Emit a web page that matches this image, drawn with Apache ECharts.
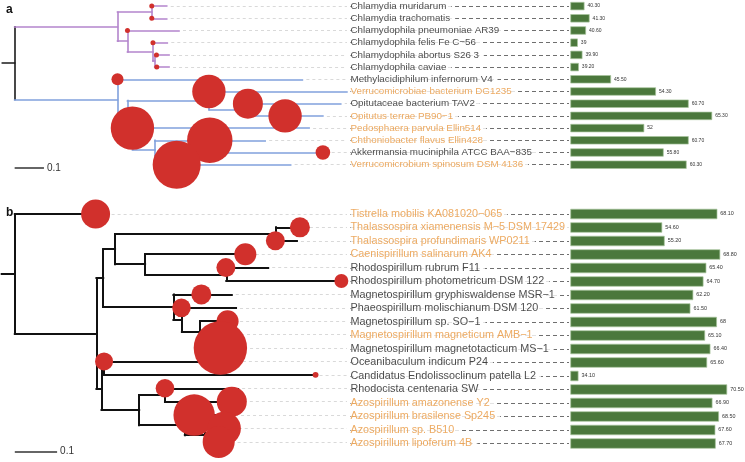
<!DOCTYPE html>
<html>
<head>
<meta charset="utf-8">
<script src="https://cdn.jsdelivr.net/npm/echarts@6/dist/echarts.min.js"></script>
<style>
html,body{margin:0;padding:0;background:#fff;}
#chart{width:745px;height:462px;}
</style>
</head>
<body>
<div id="chart"></div>
<script>
// ---------------- DATA ----------------
// Panel a
const namesA = [
  'Chlamydia muridarum', 'Chlamydia trachomatis', 'Chlamydophila pneumoniae AR39',
  'Chlamydophila felis Fe C\u221256', 'Chlamydophila abortus S26 3', 'Chlamydophila caviae',
  'Methylacidiphilum infernorum V4', 'Verrucomicrobiae bacterium DG1235',
  'Opitutaceae bacterium TAV2', 'Opitutus terrae PB90\u22121', 'Pedosphaera parvula Ellin514',
  'Chthoniobacter flavus Ellin428', 'Akkermansia muciniphila ATCC BAA\u2212835',
  'Verrucomicrobium spinosum DSM 4136'
];
const highlightA = [0,0,0,0,0,0,0,1,0,1,1,1,0,1];
const valuesA = [40.30, 41.30, 40.60, 39, 39.90, 39.20, 45.50, 54.30, 60.70, 65.30, 52, 60.70, 55.80, 60.30];
// tree (leaf numbers index namesA), branch lengths in substitutions/site
const treeA = '(((0:0.051,1:0.051):0.117,(2:0.176,(3:0.049,(4:0.049,5:0.049):0.006):0.087):0.034):0.351,' +
              '(6:0.631,((7:0.47,(8:0.316,9:0.255):0.133):0.279,(10:0.603,(11:0.376,(12:0.495,13:0.389):0.074):0.077):0.017):0.034):0.351):0.042;';
const circleXA = [0.468, 0.468, 0.385, 0.472, 0.484, 0.485, 0.351, 0.663, 0.796, 0.923, 0.402, 0.666, 1.052, 0.553];
const circleValA = [1, 1, 1, 1, 1, 1, 5.8, 44.6, 36, 44.6, 75.3, 82.4, 8.5, 92.2];

// Panel b
const namesB = [
  'Tistrella mobilis KA081020\u2212065', 'Thalassospira xiamenensis M\u22125 DSM 17429',
  'Thalassospira profundimaris WP0211', 'Caenispirillum salinarum AK4',
  'Rhodospirillum rubrum F11', 'Rhodospirillum photometricum DSM 122',
  'Magnetospirillum gryphiswaldense MSR\u22121', 'Phaeospirillum molischianum DSM 120',
  'Magnetospirillum sp. SO\u22121', 'Magnetospirillum magneticum AMB\u22121',
  'Magnetospirillum magnetotacticum MS\u22121', 'Oceanibaculum indicum P24',
  'Candidatus Endolissoclinum patella L2', 'Rhodocista centenaria SW',
  'Azospirillum amazonense Y2', 'Azospirillum brasilense Sp245',
  'Azospirillum sp. B510', 'Azospirillum lipoferum 4B'
];
const highlightB = [1,1,1,1,0,0,0,0,0,1,0,0,0,0,1,1,1,1];
const valuesB = [68.10, 54.60, 55.20, 68.80, 65.40, 64.70, 62.20, 61.50, 68, 65.10, 66.40, 65.60, 34.10, 70.50, 66.90, 68.50, 67.60, 67.70];
const treeB = '(0:0.191,((((1:0.056,2:0.049):0.381,(3:0.238,(4:0.099,5:0.274):0.192):0.071):0.028,' +
              '(6:0.138,(7:0.128,(8:0.071,(9:0.024,10:0.017):0.035):0.043):0.02):0.166):0.016,' +
              '((11:0.262,12:0.5):0.006,((13:0.173,14:0.177):0.061,(15:0.095,(16:0.071,17:0.054):0.047):0.108):0.089):0.012):0.193):0.031;';
const circleXB = [0.191, 0.674, 0.616, 0.545, 0.499, 0.772, 0.441, 0.394, 0.503, null, 0.486, 0.211, 0.711, 0.355, 0.513, 0.424, 0.495, 0.482];
const circleValB = [33.6, 16, 14.4, 19.4, 14.4, 7.8, 16, 13.8, 19.4, null, 114, 13, 1.4, 13.8, 36, 68.6, 44.6, 41];

const scaleBarLength = 0.1;

// ---------------- HELPERS ----------------
function parseNewick(str) {
  const s = str.replace(/\s+/g, '');
  let i = 0;
  function node() {
    const n = { children: [] };
    if (s[i] === '(') {
      i++;
      n.children.push(node());
      while (s[i] === ',') { i++; n.children.push(node()); }
      i++;
    }
    let name = '';
    while (i < s.length && ':,();'.indexOf(s[i]) < 0) name += s[i++];
    if (name.length) n.leaf = parseInt(name, 10);
    n.len = 0;
    if (s[i] === ':') {
      i++;
      let num = '';
      while (i < s.length && ',();'.indexOf(s[i]) < 0) num += s[i++];
      n.len = parseFloat(num);
    }
    return n;
  }
  return node();
}
function layoutTree(n, parentX) {
  n.x = parentX === undefined ? 0 : parentX + n.len;
  if (n.children.length) {
    n.children.forEach(c => layoutTree(c, n.x));
    n.y = (n.children[0].y + n.children[n.children.length - 1].y) / 2;
  } else {
    n.y = n.leaf;
  }
}
function colorTree(n, col) {
  n.color = col;
  n.children.forEach(c => colorTree(c, col));
}
function collect(n, segs, leaves) {
  if (!n.children.length) { leaves.push(n); return; }
  const f = n.children[0], l = n.children[n.children.length - 1];
  segs.push({ coords: [[n.x, f.y], [n.x, l.y]], lineStyle: { color: n.color } });
  n.children.forEach(c => {
    segs.push({ coords: [[n.x, c.y], [c.x, c.y]], lineStyle: { color: c.color } });
    collect(c, segs, leaves);
  });
}
const fmt = v => Number.isInteger(v) ? String(v) : v.toFixed(2);

// ---------------- LAYOUT / STYLE ----------------
const TREE_W = 347, LABEL_L = 350, LABEL_W = 219, BAR_L = 570.7, BAR_W = 174.3;
const BLACK = '#1a1a1a', ORANGE = '#e8963c', RED = '#d1302c', GREEN = '#4b783c';

const grids = [], xAxes = [], yAxes = [], series = [];

function panel(p) {
  const n = p.names.length;
  const root = parseNewick(p.newick);
  layoutTree(root);
  colorTree(root, p.rootColor);
  root.children.forEach((c, k) => colorTree(c, p.cladeColors[k] || p.rootColor));
  const segs = [{ coords: [[-root.len, root.y], [0, root.y]], lineStyle: { color: p.rootColor } }];
  const leaves = [];
  collect(root, segs, leaves);
  const xMin = p.treeMin, xMax = p.treeMin + TREE_W / p.treeScale;
  const yMax = n - 0.5 + p.extraRows;

  // tree grid
  const g0 = grids.length;
  grids.push({ left: 0, top: p.top, width: TREE_W, height: (n + p.extraRows) * p.rowH });
  xAxes.push({ gridIndex: g0, type: 'value', min: xMin, max: xMax, show: false });
  yAxes.push({ gridIndex: g0, type: 'value', min: -0.5, max: yMax, inverse: true, show: false });
  // label grid
  const g1 = grids.length;
  grids.push({ left: LABEL_L, top: p.top, width: LABEL_W, height: n * p.rowH });
  xAxes.push({ gridIndex: g1, type: 'value', min: 0, max: 1, show: false });
  yAxes.push({ gridIndex: g1, type: 'value', min: -0.5, max: n - 0.5, inverse: true, show: false });
  // bar grid
  const g2 = grids.length;
  grids.push({ left: BAR_L, top: p.top, width: BAR_W, height: n * p.rowH });
  xAxes.push({ gridIndex: g2, type: 'value', min: p.barMin, max: p.barMin + BAR_W / p.barScale, show: false });
  yAxes.push({ gridIndex: g2, type: 'category', data: p.names, inverse: true, show: false });

  // light leaders tip -> label
  series.push({
    type: 'lines', coordinateSystem: 'cartesian2d', xAxisIndex: g0, yAxisIndex: g0,
    silent: true, z: 1,
    lineStyle: { color: '#d9d9d9', width: 1, type: [3, 3], opacity: 1 },
    data: leaves.map(l => ({ coords: [[l.x + 4 / p.treeScale, l.y], [xMax, l.y]] }))
  });
  // tree branches
  series.push({
    type: 'lines', coordinateSystem: 'cartesian2d', xAxisIndex: g0, yAxisIndex: g0,
    silent: true, z: 2,
    lineStyle: { width: p.lineW, opacity: 1, cap: 'square' },
    data: segs
  });
  // circles
  const circ = [];
  p.circX.forEach((x, i) => { if (x != null) circ.push([x, i, p.circV[i]]); });
  series.push({
    type: 'scatter', xAxisIndex: g0, yAxisIndex: g0, z: 3, silent: true,
    symbol: 'circle',
    symbolSize: v => 5 * Math.sqrt(v[2]),
    itemStyle: { color: RED, opacity: 1 },
    data: circ
  });
  // scale bar
  series.push({
    type: 'lines', coordinateSystem: 'cartesian2d', xAxisIndex: g0, yAxisIndex: g0,
    silent: true, z: 2,
    lineStyle: { color: '#333', width: 1.5, opacity: 1 },
    label: { show: true, position: 'end', distance: 3, formatter: String(scaleBarLength),
             fontFamily: 'Liberation Sans', fontSize: 10, color: '#333' },
    data: [{ coords: [[0, p.scaleRow], [scaleBarLength, p.scaleRow]] }]
  });
  // dark leaders label -> bar
  series.push({
    type: 'lines', coordinateSystem: 'cartesian2d', xAxisIndex: g1, yAxisIndex: g1,
    silent: true, z: 1,
    lineStyle: { color: '#6f6f6f', width: 1, type: [4, 3], opacity: 1 },
    data: p.names.map((_, i) => ({ coords: [[0, i], [1, i]] }))
  });
  // species labels
  series.push({
    type: 'scatter', xAxisIndex: g1, yAxisIndex: g1, z: 4, silent: true,
    symbolSize: 1, itemStyle: { color: 'rgba(0,0,0,0)' },
    label: { show: true, position: 'right', distance: 0, formatter: '{b}',
             fontFamily: 'Liberation Sans', fontSize: p.fontSize,
             backgroundColor: '#fff', padding: [1, 5, 1, 0] },
    data: p.names.map((nm, i) => ({ name: nm, value: [0, i],
            label: { color: p.hl[i] ? ORANGE : BLACK } }))
  });
  // bars
  series.push({
    type: 'bar', xAxisIndex: g2, yAxisIndex: g2, z: 2,
    barWidth: p.barWidth,
    itemStyle: { color: GREEN, borderColor: '#a8c49c', borderWidth: 0.7 },
    label: { show: true, position: 'right', distance: 3, fontFamily: 'Liberation Sans',
             fontSize: p.valueFont, color: '#333', formatter: q => fmt(q.value) },
    data: p.values
  });
}

panel({
  names: namesA, hl: highlightA, values: valuesA, newick: treeA,
  circX: circleXA, circV: circleValA,
  top: 0, rowH: 12.2, extraRows: 1, treeScale: 293, treeMin: -0.05,
  barMin: 37.6, barScale: 5.107, barWidth: 8.3,
  rootColor: '#1a1a1a', cladeColors: ['#b385cc', '#80a0dc'], lineW: 1.6,
  scaleRow: 13.25, fontSize: 9.8, valueFont: 5
});
panel({
  names: namesB, hl: highlightB, values: valuesB, newick: treeB,
  circX: circleXB, circV: circleValB,
  top: 207.25, rowH: 13.5, extraRows: 1, treeScale: 423, treeMin: -0.035,
  barMin: 32.2, barScale: 4.085, barWidth: 10.3,
  rootColor: '#111', cladeColors: [], lineW: 2,
  scaleRow: 17.7, fontSize: 10.8, valueFont: 5.4
});

const chart = echarts.init(document.getElementById('chart'), null, { renderer: 'canvas' });
chart.setOption({
  animation: false,
  backgroundColor: '#fff',
  title: [
    { text: 'a', left: 1, top: -1, textStyle: { fontFamily: 'Liberation Sans', fontSize: 12, fontWeight: 'bold', color: '#111' } },
    { text: 'b', left: 1, top: 202, textStyle: { fontFamily: 'Liberation Sans', fontSize: 12, fontWeight: 'bold', color: '#111' } }
  ],
  grid: grids, xAxis: xAxes, yAxis: yAxes, series: series
});
</script>
</body>
</html>
